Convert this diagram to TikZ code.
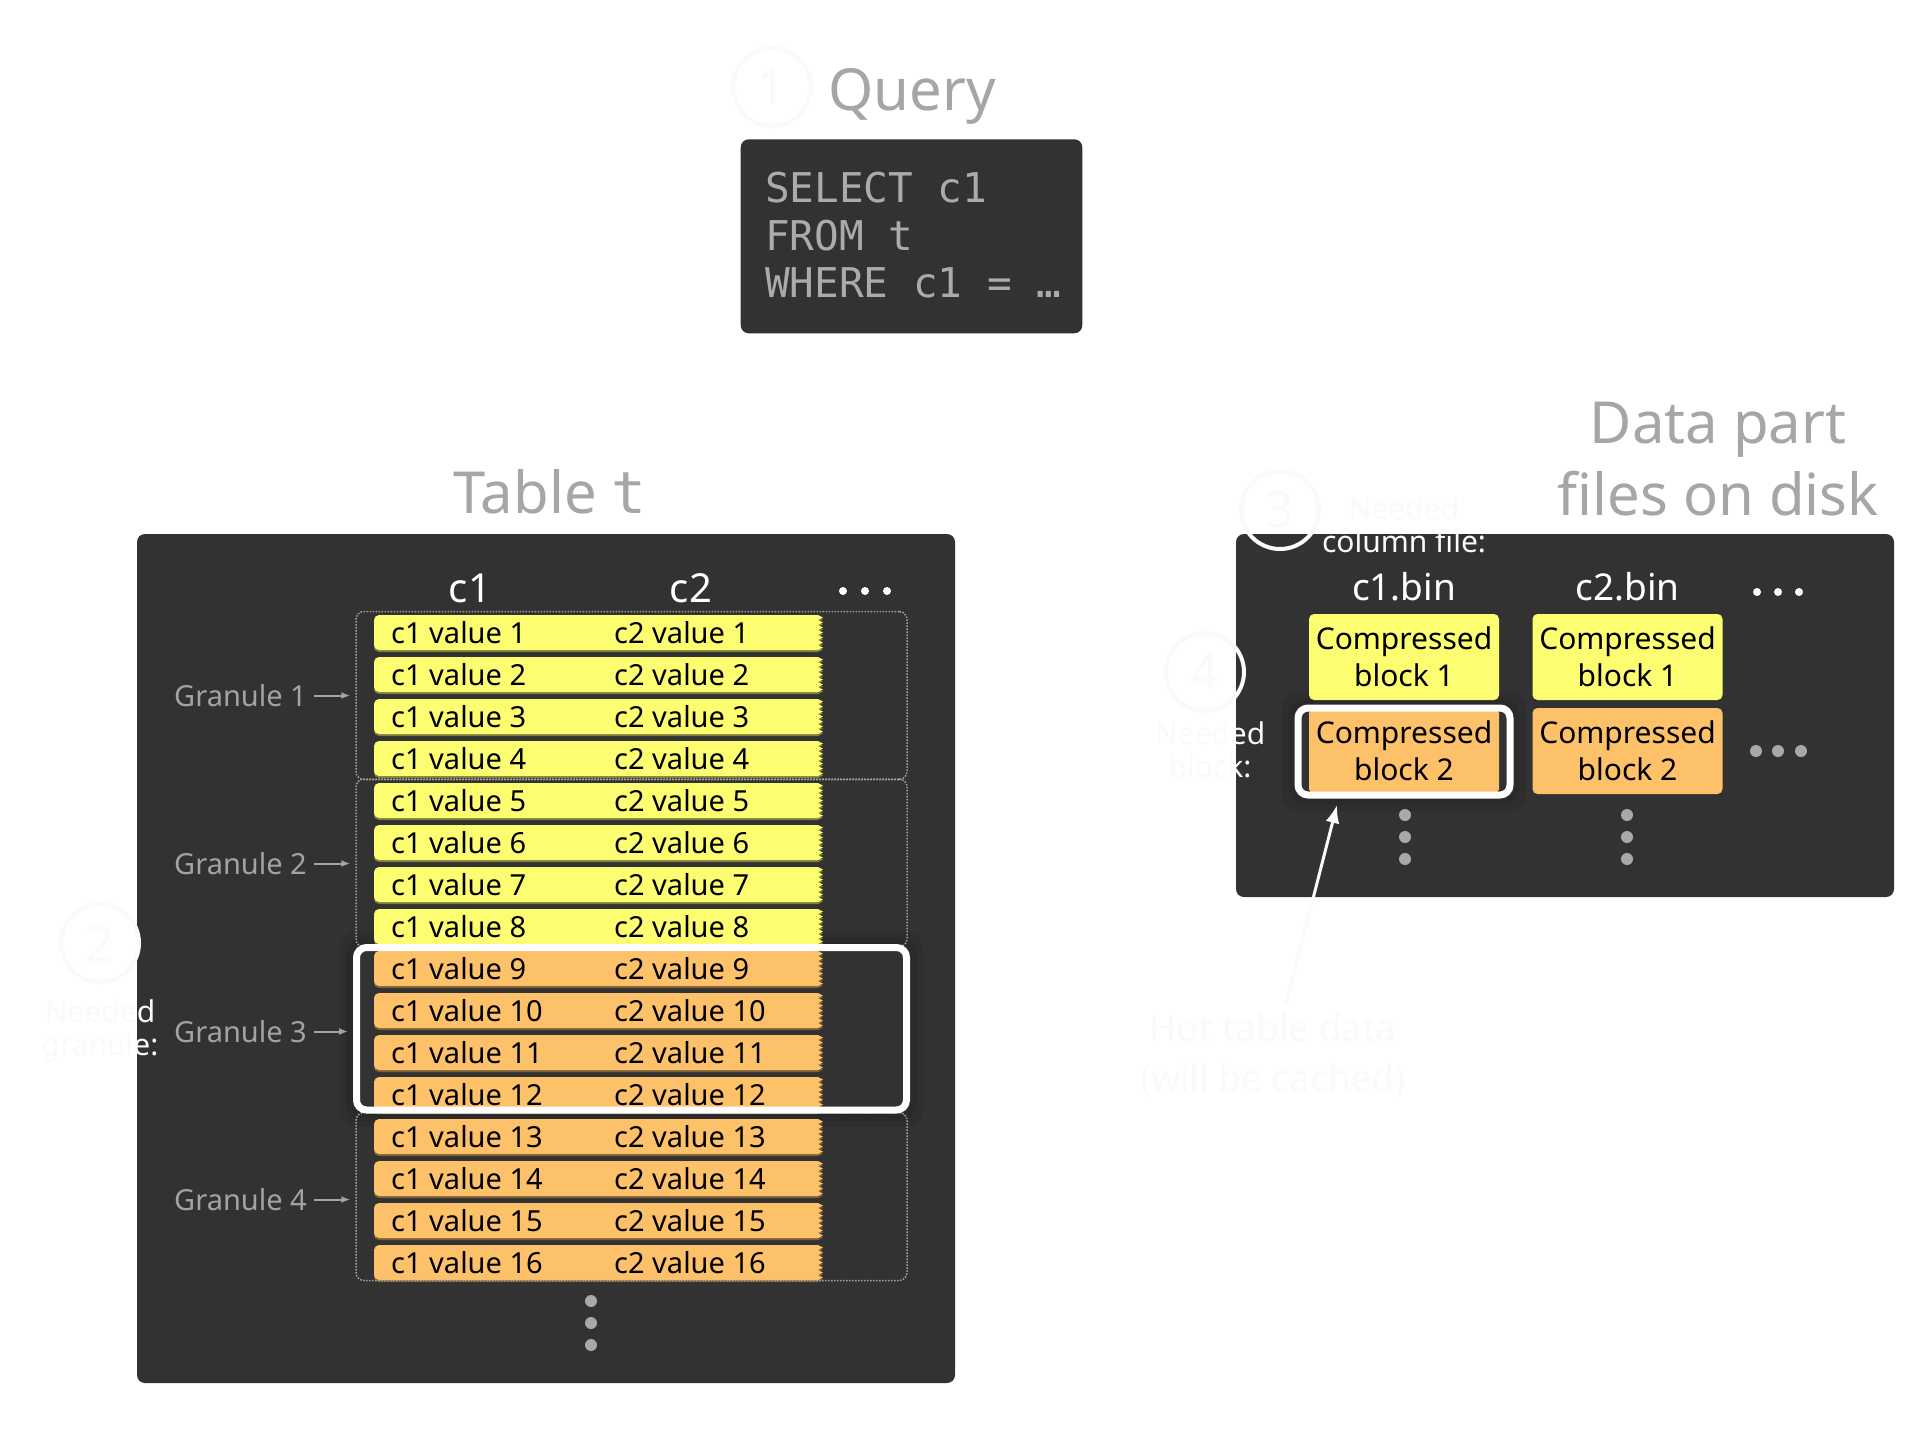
\documentclass[tikz,border=0pt]{standalone}
\usepackage{fontspec}
\setmainfont{Noto Sans}
\newfontfamily\monofont{DejaVu Sans Mono}
\usetikzlibrary{arrows.meta,positioning}
\definecolor{panel}{HTML}{323232}
\definecolor{titlegray}{HTML}{A6A6A6}
\definecolor{labelgray}{HTML}{A3A3A3}
\definecolor{sqlgray}{HTML}{ABABAB}
\definecolor{dotgray}{HTML}{A8A8A8}
\definecolor{yel}{HTML}{FDFD72}
\definecolor{org}{HTML}{FDC16A}
\definecolor{ghost}{HTML}{FAFAFA}
\newcommand{\valshape}[2]{%
  \fill[fill=#1, rounded corners=5pt] (374,#2) rectangle (816,#2+35);
  \fill[fill=#1] (810,#2) -- (818,#2)
    \foreach \k in {0,...,6} { -- (823,#2+5*\k+2.5) -- (818,#2+5*\k+5) }
    -- (810,#2+35) -- cycle;
}
\tikzset{
  title/.style={text=titlegray, inner sep=0pt, font=\fontsize{58}{72}\selectfont},
  panelbox/.style={fill=panel, rounded corners=8pt, inner sep=0pt},
  colhead/.style={text=white, inner sep=0pt, anchor=base, font=\fontsize{40}{48}\selectfont},
  filehead/.style={text=white, inner sep=0pt, anchor=base, font=\fontsize{37}{44}\selectfont},
  valtext/.style={inner sep=0pt, anchor=base west, font=\fontsize{29}{35}\selectfont},
  granule/.style={draw=labelgray, dash pattern=on 1.5pt off 1.5pt, line width=1.5pt, rounded corners=8pt, minimum width=551pt, minimum height=168pt, inner sep=0pt},
  picked/.style={draw=white, line width=7pt, rounded corners=10pt, inner sep=0pt},
  halo/.style={black, opacity=0.08, even odd rule, rounded corners=18pt},
  granlabel/.style={text=labelgray, inner sep=0pt, anchor=east, font=\fontsize{29}{35}\selectfont},
  granarrow/.style={labelgray, line width=2pt, -{Latex[length=9pt,width=7pt]}, shorten <=7pt, shorten >=5pt},
  block/.style={rounded corners=5pt, minimum width=190pt, minimum height=86pt, inner sep=0pt, align=center, font=\fontsize{30}{37}\selectfont},
  numcircle/.style={circle, draw=ghost, line width=4pt, minimum size=78pt, inner sep=0pt, text=ghost, font=\fontsize{50}{60}\selectfont},
  note/.style={text=ghost, align=center, inner sep=0pt, font=\fontsize{30}{33}\selectfont},
}
\begin{document}
\begin{tikzpicture}[x=1pt, y=-1pt]
  \useasboundingbox (0,0) rectangle (1932,1432);
  \fill[white] (0,0) rectangle (1932,1432);

  \node[title, anchor=base west] (querytitle) at (828,110) {Query};
  \node[panelbox, minimum width=341.6pt, minimum height=194pt] (querybox) at (911.5,236.3) {};
  \node[text=sqlgray, inner sep=0pt, anchor=west, align=left, font=\monofont\fontsize{41}{47.5}\selectfont] (sql) at (765,235.5) {SELECT c1\\FROM t\\WHERE c1 = …};

  \node[title, anchor=base west] (tabletitle) at (453,513) {Table {\monofont t}};
  \node[panelbox, minimum width=818pt, minimum height=849pt] (tablebox) at (546,958.5) {};
  \foreach \d in {4,10,16}
    \fill[halo] (356-\d,947-\d) rectangle (907+\d,1111+\d) (356,947) rectangle (907,1111);
  \node[colhead] (headc1) at (470,602) {c1};
  \node[colhead] (headc2) at (691,602) {c2};
  \foreach \x in {843,865,887} \fill[white] (\x,591) circle (4pt);

  \foreach \i in {1,...,16} {
    \pgfmathtruncatemacro\t{615+42*(\i-1)}
    \ifnum\i<9 \def\rc{yel}\else\def\rc{org}\fi
    \valshape{\rc!50!black}{\t+2}
    \valshape{\rc}{\t}
    \node[valtext] (ca\i) at (391,\t+28) {c1 value \i};
    \node[valtext] (cb\i) at (614,\t+28) {c2 value \i};
  }

  \node[granule] (gr1) at (631.5,695.5) {};
  \node[granule] (gr2) at (631.5,863) {};
  \node[granule] (gr4) at (631.5,1196.5) {};
  \node[picked, minimum width=550pt, minimum height=162.5pt] (gr3) at (631.5,1028.75) {};
  \foreach \g/\y in {1/695.5,2/863.5,3/1031.5,4/1199.5} {
    \node[granlabel] (gl\g) at (307,\y) {Granule \g};
    \draw[granarrow] (gl\g.east) -- (gl\g.east -| gr\g.west);
  }
  \foreach \y in {1301,1323,1345} \fill[dotgray] (591,\y) circle (6pt);

  \node[title, align=center] (disktitle) at (1718,459) {Data part\\files on disk};
  \node[panelbox, minimum width=658pt, minimum height=363pt] (diskbox) at (1565,715.5) {};
  \foreach \d in {4,10,16}
    \fill[halo] (1298-\d,708-\d) rectangle (1510+\d,795+\d) (1298,708) rectangle (1510,795);
  \node[filehead] (filec1) at (1404,600) {c1.bin};
  \node[filehead] (filec2) at (1627.5,600) {c2.bin};
  \foreach \x in {1757,1778,1799} \fill[white] (\x,592) circle (4pt);
  \node[block, fill=yel] (blka1) at (1404,657) {Compressed\\block 1};
  \node[block, fill=yel] (blkb1) at (1627.5,657) {Compressed\\block 1};
  \node[block, fill=org] (blka2) at (1404,751) {Compressed\\block 2};
  \node[block, fill=org] (blkb2) at (1627.5,751) {Compressed\\block 2};
  \node[picked, minimum width=212pt, minimum height=87pt] (blkpick) at (1404,751.5) {};
  \foreach \x in {1756,1778,1801} \fill[dotgray] (\x,751) circle (6pt);
  \foreach \y in {815,837,859} {
    \fill[dotgray] (1405,\y) circle (6pt);
    \fill[dotgray] (1627,\y) circle (6pt);
  }

  \node[numcircle] (step1) at (772,87) {1};
  \node[numcircle] (step2) at (100,943) {2};
  \node[numcircle] (step3) at (1280,510) {3};
  \node[numcircle] (step4) at (1205,672) {4};
  \node[note] (needgran) at (100,1031) {Needed\\granule:};
  \node[note] (needfile) at (1404,525) {Needed\\column file:};
  \node[note] (needblk) at (1210,750) {Needed\\block:};
  \node[note, inner sep=10pt, font=\fontsize{37}{50}\selectfont] (hot) at (1273,1055) {Hot table data\\(will be cached)};
  \coordinate (tip) at (1337,805);
  \draw[ghost, line width=3pt, -{Latex[length=18pt,width=14pt]}] (hot) -- (tip);
\end{tikzpicture}
\end{document}
